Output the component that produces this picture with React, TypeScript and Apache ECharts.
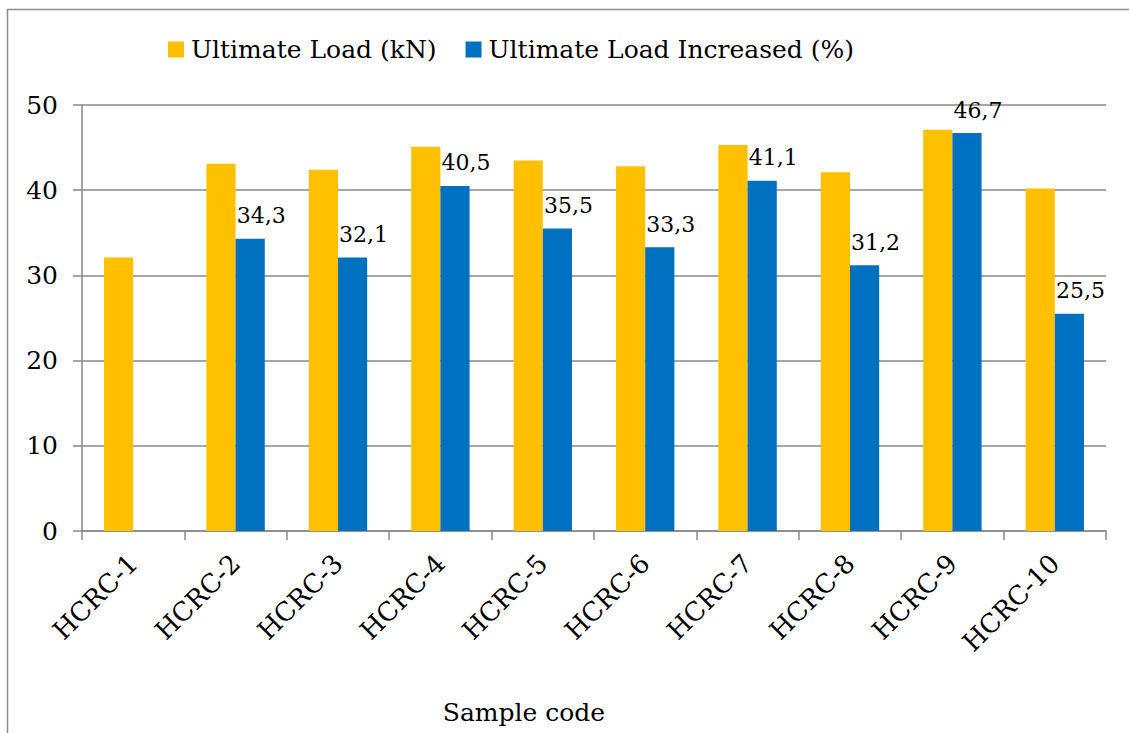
import React, { useEffect, useRef } from "react";
import * as echarts from "echarts";

// Sample codes along the category axis
const categories = [
  "HCRC-1", "HCRC-2", "HCRC-3", "HCRC-4", "HCRC-5",
  "HCRC-6", "HCRC-7", "HCRC-8", "HCRC-9", "HCRC-10",
];

// Ultimate load of each sample (kN)
const ultimateLoad = [32.1, 43.1, 42.4, 45.1, 43.5, 42.8, 45.3, 42.1, 47.1, 40.2];

// Increase of ultimate load relative to the reference sample (%)
const loadIncrease = [null, 34.3, 32.1, 40.5, 35.5, 33.3, 41.1, 31.2, 46.7, 25.5];

// Value axis ticks
const yTicks = { min: 0, max: 50, interval: 10 };

const seriesNames = ["Ultimate Load (kN)", "Ultimate Load Increased (%)"];

const FONT = "DejaVu Serif";
const GRAY = "#898989";

export default function App() {
  const ref = useRef<HTMLDivElement>(null);

  useEffect(() => {
    if (!ref.current) return;
    const chart = echarts.init(ref.current, null, { renderer: "svg" });
    chart.setOption({
      animation: false,
      backgroundColor: "#ffffff",
      textStyle: { fontFamily: FONT, color: "#000" },
      legend: {
        left: 163,
        top: 32,
        icon: "rect",
        itemWidth: 16,
        itemHeight: 16,
        itemGap: 29,
        textStyle: { fontFamily: FONT, fontSize: 25, color: "#000", padding: [0, 0, 0, 2] },
        data: seriesNames,
      },
      grid: { left: 82, right: 23, top: 105, bottom: 202, containLabel: false },
      xAxis: {
        type: "category",
        data: categories,
        axisLine: { show: true, lineStyle: { color: GRAY, width: 1.5 } },
        axisTick: { show: true, length: 9, lineStyle: { color: GRAY, width: 1.5 } },
        axisLabel: {
          rotate: 45,
          margin: 28,
          fontFamily: FONT,
          fontSize: 26,
          color: "#000",
          interval: 0,
        },
      },
      yAxis: {
        type: "value",
        min: yTicks.min,
        max: yTicks.max,
        interval: yTicks.interval,
        axisLine: { show: true, lineStyle: { color: GRAY, width: 1.5 } },
        axisTick: { show: true, length: 9, lineStyle: { color: GRAY, width: 1.5 } },
        splitLine: { show: true, lineStyle: { color: GRAY, width: 1.5 } },
        axisLabel: { margin: 24, fontFamily: FONT, fontSize: 25, color: "#000" },
      },
      series: [
        {
          name: seriesNames[0],
          type: "bar",
          data: ultimateLoad,
          barGap: "0%",
          barCategoryGap: "43%",
          itemStyle: { color: "#FFC000" },
        },
        {
          name: seriesNames[1],
          type: "bar",
          data: loadIncrease,
          itemStyle: { color: "#0070C0" },
          label: {
            show: true,
            position: "top",
            distance: 12,
            offset: [11, 0],
            fontFamily: FONT,
            fontSize: 22,
            color: "#000",
            formatter: (p: any) =>
              p.value == null ? "" : Number(p.value).toFixed(1).replace(".", ","),
          },
        },
      ],
      graphic: [
        {
          type: "rect",
          shape: { x: 7.5, y: 9.5, width: 1300, height: 900 },
          style: { fill: "none", stroke: "#8c8c8c", lineWidth: 1.5 },
          silent: true,
        },
        {
          type: "text",
          x: 524,
          y: 712,
          style: {
            text: "Sample code",
            fontFamily: FONT,
            fontSize: 25,
            fill: "#000",
            textAlign: "center",
            textVerticalAlign: "middle",
          },
        },
      ],
    });
    return () => chart.dispose();
  }, []);

  return (
    <div
      ref={ref}
      style={{ position: "fixed", left: 0, top: 0, width: 1129, height: 733, background: "#fff" }}
    />
  );
}
